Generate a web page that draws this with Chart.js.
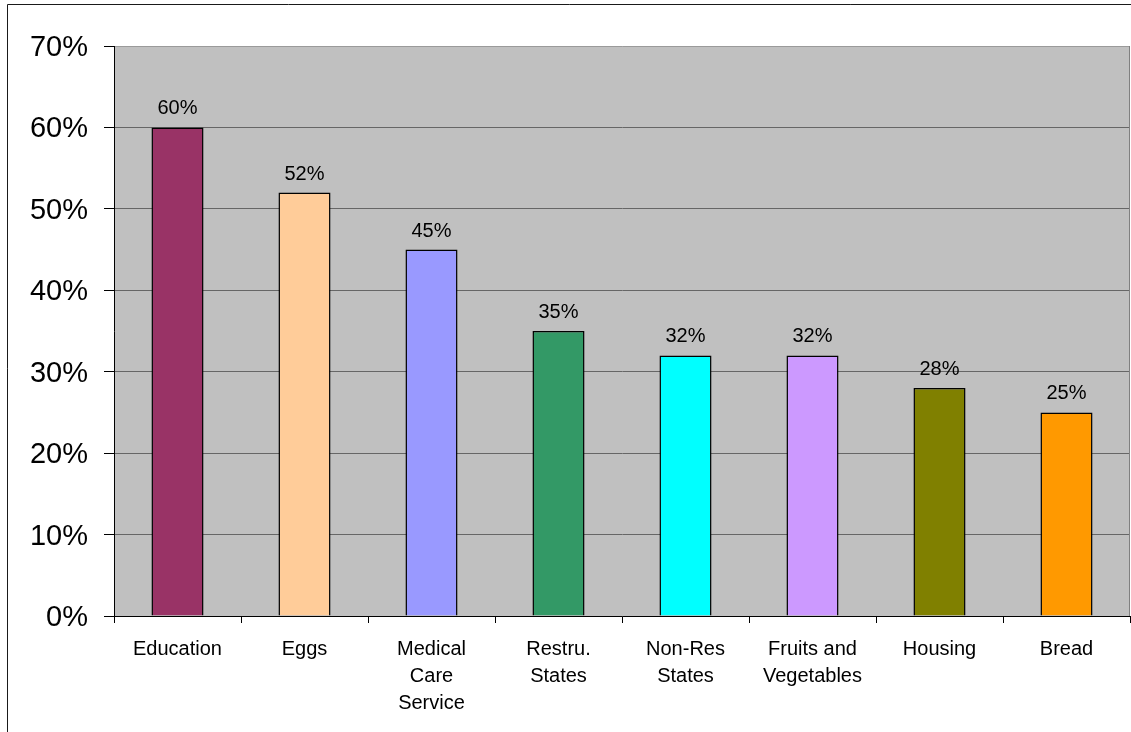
<!DOCTYPE html>
<html>
<head>
<meta charset="utf-8">
<script src="https://cdn.jsdelivr.net/npm/chart.js@4/dist/chart.umd.min.js"></script>
<style>
html,body{margin:0;padding:0;background:#fff;}
#wrap{width:1131px;height:732px;position:relative;}
</style>
</head>
<body>
<div id="wrap"><canvas id="c" width="1131" height="732"></canvas></div>
<script>
const categories = ["Education", "Eggs", ["Medical", "Care", "Service"], ["Restru.", "States"], ["Non-Res", "States"], ["Fruits and", "Vegetables"], "Housing", "Bread"];
const values = [60, 52, 45, 35, 32, 32, 28, 25];
const barColors = ["#993366", "#FFCC99", "#9999FF", "#339966", "#00FFFF", "#CC99FF", "#808000", "#FF9900"];
const yTicks = [0, 10, 20, 30, 40, 50, 60, 70];

const FONT = "'Liberation Sans', Arial, sans-serif";

const framePlugin = {
  id: 'frame',
  beforeDraw(chart) {
    const ctx = chart.ctx, a = chart.chartArea;
    ctx.save();
    ctx.fillStyle = '#C0C0C0';
    ctx.fillRect(a.left, a.top, a.right - a.left, a.bottom - a.top);
    ctx.strokeStyle = '#1a1a1a';
    ctx.lineWidth = 1;
    ctx.beginPath();
    ctx.moveTo(7.5, 732);
    ctx.lineTo(7.5, 4.5);
    ctx.lineTo(1131, 4.5);
    ctx.stroke();
    ctx.restore();
  },
  afterDatasetsDraw(chart) {
    const ctx = chart.ctx, a = chart.chartArea;
    ctx.save();
    ctx.strokeStyle = '#808080';
    ctx.lineWidth = 1;
    ctx.beginPath();
    ctx.moveTo(a.right - 0.5, a.top);
    ctx.lineTo(a.right - 0.5, a.bottom);
    ctx.stroke();
    // data labels
    const meta = chart.getDatasetMeta(0);
    ctx.fillStyle = '#000';
    ctx.font = '20px ' + FONT;
    ctx.textAlign = 'center';
    ctx.textBaseline = 'alphabetic';
    meta.data.forEach((bar, i) => {
      ctx.fillText(values[i] + '%', bar.x, bar.y - 13);
    });
    ctx.restore();
  }
};

new Chart(document.getElementById('c'), {
  type: 'bar',
  data: {
    labels: categories,
    datasets: [{
      data: values,
      backgroundColor: barColors,
      borderColor: '#000',
      borderWidth: 1.5,
      categoryPercentage: 1,
      barPercentage: 0.41
    }]
  },
  options: {
    responsive: false,
    animation: false,
    devicePixelRatio: 1,
    layout: { padding: { top: 46, right: 1, left: 0, bottom: 0 } },
    plugins: { legend: { display: false }, tooltip: { enabled: false } },
    scales: {
      x: {
        afterFit(s) { s.height = 116; },
        grid: { drawOnChartArea: false, drawTicks: true, tickLength: 7, tickColor: '#000', offset: true },
        border: { color: '#000', width: 1 },
        ticks: { color: '#000', font: { family: FONT, size: 20, lineHeight: 1.35 }, padding: 13, maxRotation: 0, autoSkip: false }
      },
      y: {
        min: 0, max: 70,
        afterFit(s) { s.width = 114; },
        afterBuildTicks(s) { s.ticks = yTicks.map(v => ({ value: v })); },
        grid: {
          color: (c) => c.tick && c.tick.value === 70 ? '#9a9a9a' : '#666666',
          tickLength: 10, tickColor: '#000'
        },
        border: { color: '#000', width: 1 },
        ticks: {
          color: '#000', padding: 16, labelOffset: 2,
          font: { family: FONT, size: 29 },
          callback: (v) => v + '%'
        }
      }
    }
  },
  plugins: [framePlugin]
});
</script>
</body>
</html>
